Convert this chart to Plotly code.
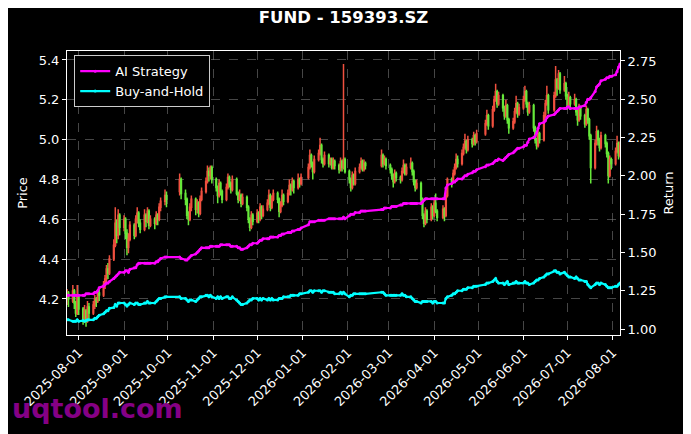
import pandas as pd
import plotly.graph_objects as go

# trading calendar (SZSE), holidays removed
START, END = '2025-07-24', '2026-08-06'
HOLIDAYS = ['2025-10-01', '2025-10-02', '2025-10-03', '2025-10-06', '2025-10-07', '2025-10-08',
            '2026-01-01', '2026-01-02',
            '2026-02-16', '2026-02-17', '2026-02-18', '2026-02-19', '2026-02-20', '2026-02-23',
            '2026-04-06', '2026-05-01', '2026-05-04', '2026-05-05', '2026-06-19']
MONTH_TICKS = ['2025-08-01', '2025-09-01', '2025-10-01', '2025-11-01', '2025-12-01',
               '2026-01-01', '2026-02-01', '2026-03-01', '2026-04-01', '2026-05-01',
               '2026-06-01', '2026-07-01', '2026-08-01']
PRICE_TICKS = [4.2, 4.4, 4.6, 4.8, 5.0, 5.2, 5.4]
RETURN_TICKS = [1.00, 1.25, 1.50, 1.75, 2.00, 2.25, 2.50, 2.75]

opens = [4.20, 4.23,
         4.19, 4.24, 4.18, 4.13, 4.21, 4.15, 4.10, 4.14, 4.09, 4.16,
         4.13, 4.17, 4.20, 4.19, 4.23, 4.22, 4.27, 4.30, 4.35, 4.33,
         4.40, 4.47, 4.58, 4.52, 4.62, 4.56, 4.60, 4.53, 4.46, 4.50,
         4.57, 4.52, 4.60, 4.63, 4.58, 4.55, 4.62, 4.59, 4.64, 4.57,
         4.60, 4.58, 4.62, 4.60, 4.66, 4.69, 4.72,
         4.74, 4.80,
         4.73, 4.70, 4.62, 4.60, 4.66, 4.70, 4.65, 4.68, 4.63, 4.70,
         4.74, 4.79, 4.84, 4.82, 4.86,
         4.80, 4.76, 4.72, 4.78, 4.74, 4.70, 4.76, 4.81, 4.78, 4.75,
         4.80, 4.73, 4.70, 4.72, 4.68, 4.71, 4.66, 4.60, 4.56, 4.62,
         4.59, 4.63, 4.60, 4.66, 4.62, 4.65, 4.68, 4.72, 4.66, 4.70,
         4.73, 4.70, 4.64, 4.67, 4.72, 4.69, 4.73, 4.77, 4.75, 4.79,
         4.76, 4.80, 4.78,
         4.81, 4.86, 4.92, 4.88, 4.84, 4.90, 4.93, 4.97, 4.90, 4.88,
         4.92, 4.88, 4.90, 4.86, 4.89, 4.87, 4.85, 4.89, 4.86, 4.90,
         4.84, 4.80, 4.76, 4.82, 4.78, 4.84, 4.86, 4.89, 4.85, 4.88,
         4.87, 4.92, 4.88, 4.90,
         4.87, 4.85, 4.82, 4.79, 4.83, 4.81, 4.80, 4.84, 4.87, 4.83,
         4.86, 4.88, 4.84, 4.79, 4.76, 4.78, 4.70, 4.62, 4.58, 4.64,
         4.60, 4.66, 4.62, 4.68, 4.64,
         4.61, 4.65, 4.62, 4.72,
         4.80, 4.79, 4.83, 4.86, 4.90, 4.88, 4.93, 4.96, 4.99, 4.95,
         5.00, 4.98, 5.02, 4.99,
         5.03, 5.08, 5.12,
         5.07, 5.15, 5.20, 5.24, 5.18, 5.22, 5.16, 5.12, 5.17, 5.10,
         5.06, 5.09, 5.14, 5.18, 5.13, 5.16, 5.20, 5.24, 5.18, 5.14,
         5.17, 5.06, 5.00, 4.97, 5.03,
         5.00, 5.12, 5.18, 5.22,
         5.15, 5.22, 5.30, 5.26, 5.33, 5.25, 5.28, 5.22, 5.17, 5.21,
         5.18, 5.20, 5.14, 5.10, 5.16, 5.12, 5.08, 5.15, 5.10, 5.02,
         4.86, 4.98, 5.04, 5.00, 4.96, 5.02, 4.98, 4.93, 4.82, 4.90,
         4.88, 4.94, 4.98, 4.92]

highs = [4.25, 4.24,
         4.27, 4.25, 4.19, 4.27, 4.22, 4.16, 4.17, 4.15, 4.19, 4.18,
         4.19, 4.22, 4.21, 4.25, 4.25, 4.29, 4.32, 4.37, 4.38, 4.42,
         4.50, 4.66, 4.60, 4.65, 4.63, 4.62, 4.61, 4.55, 4.53, 4.59,
         4.58, 4.62, 4.66, 4.64, 4.60, 4.65, 4.63, 4.66, 4.65, 4.62,
         4.61, 4.64, 4.63, 4.68, 4.71, 4.75, 4.74,
         4.83, 4.81,
         4.75, 4.71, 4.64, 4.68, 4.72, 4.71, 4.70, 4.69, 4.72, 4.76,
         4.81, 4.87, 4.86, 4.87, 4.87,
         4.81, 4.77, 4.80, 4.79, 4.75, 4.78, 4.83, 4.82, 4.79, 4.82,
         4.81, 4.74, 4.75, 4.73, 4.73, 4.72, 4.67, 4.61, 4.64, 4.63,
         4.65, 4.64, 4.68, 4.67, 4.67, 4.70, 4.75, 4.73, 4.72, 4.75,
         4.74, 4.71, 4.69, 4.75, 4.73, 4.75, 4.80, 4.78, 4.81, 4.80,
         4.83, 4.81, 4.83,
         4.88, 4.95, 4.93, 4.89, 4.92, 4.95, 5.01, 4.98, 4.91, 4.94,
         4.93, 4.91, 4.91, 4.91, 4.90, 4.88, 4.91, 4.90, 5.38, 4.91,
         4.85, 4.81, 4.84, 4.83, 4.86, 4.88, 4.91, 4.90, 4.90, 4.89,
         4.95, 4.93, 4.92, 4.91,
         4.88, 4.86, 4.83, 4.85, 4.84, 4.82, 4.86, 4.90, 4.88, 4.88,
         4.91, 4.89, 4.85, 4.80, 4.80, 4.79, 4.71, 4.63, 4.66, 4.65,
         4.68, 4.67, 4.70, 4.73, 4.65,
         4.67, 4.66, 4.74, 4.81,
         4.81, 4.85, 4.88, 4.93, 4.92, 4.95, 4.98, 5.03, 5.00, 5.02,
         5.01, 5.04, 5.03, 5.05,
         5.10, 5.15, 5.13,
         5.17, 5.22, 5.28, 5.25, 5.24, 5.23, 5.17, 5.20, 5.18, 5.11,
         5.11, 5.16, 5.22, 5.19, 5.18, 5.22, 5.27, 5.25, 5.19, 5.19,
         5.18, 5.07, 5.01, 5.05, 5.04,
         5.14, 5.20, 5.27, 5.23,
         5.24, 5.37, 5.31, 5.35, 5.34, 5.32, 5.29, 5.23, 5.24, 5.22,
         5.23, 5.21, 5.15, 5.18, 5.17, 5.13, 5.17, 5.16, 5.11, 5.03,
         5.00, 5.07, 5.05, 5.01, 5.04, 5.03, 4.99, 4.94, 4.92, 4.91,
         4.96, 5.02, 4.99, 4.99]

lows = [4.17, 4.16,
        4.18, 4.15, 4.11, 4.12, 4.12, 4.07, 4.08, 4.06, 4.08, 4.10,
        4.12, 4.15, 4.16, 4.18, 4.19, 4.21, 4.25, 4.28, 4.30, 4.32,
        4.39, 4.46, 4.48, 4.50, 4.52, 4.54, 4.50, 4.42, 4.43, 4.49,
        4.50, 4.51, 4.58, 4.56, 4.53, 4.54, 4.56, 4.58, 4.55, 4.56,
        4.55, 4.57, 4.57, 4.59, 4.64, 4.67, 4.66,
        4.72, 4.70,
        4.67, 4.60, 4.57, 4.59, 4.64, 4.62, 4.63, 4.61, 4.62, 4.69,
        4.73, 4.78, 4.79, 4.80, 4.78,
        4.74, 4.68, 4.71, 4.72, 4.68, 4.69, 4.75, 4.76, 4.73, 4.74,
        4.72, 4.68, 4.69, 4.66, 4.67, 4.64, 4.58, 4.54, 4.55, 4.57,
        4.58, 4.58, 4.59, 4.60, 4.61, 4.64, 4.67, 4.64, 4.65, 4.69,
        4.68, 4.61, 4.63, 4.66, 4.67, 4.68, 4.72, 4.72, 4.74, 4.73,
        4.75, 4.76, 4.77,
        4.80, 4.85, 4.86, 4.80, 4.83, 4.89, 4.92, 4.88, 4.86, 4.87,
        4.86, 4.87, 4.85, 4.85, 4.85, 4.83, 4.84, 4.84, 4.85, 4.83,
        4.78, 4.74, 4.75, 4.77, 4.77, 4.83, 4.85, 4.84, 4.84, 4.85,
        4.86, 4.86, 4.87, 4.85,
        4.83, 4.80, 4.76, 4.78, 4.79, 4.78, 4.79, 4.83, 4.82, 4.82,
        4.85, 4.82, 4.77, 4.74, 4.75, 4.68, 4.60, 4.56, 4.57, 4.58,
        4.59, 4.60, 4.61, 4.63, 4.59,
        4.60, 4.59, 4.61, 4.71,
        4.76, 4.78, 4.82, 4.85, 4.86, 4.87, 4.92, 4.95, 4.93, 4.94,
        4.96, 4.97, 4.97, 4.98,
        5.02, 5.07, 5.05,
        5.06, 5.14, 5.19, 5.16, 5.17, 5.14, 5.10, 5.11, 5.08, 5.03,
        5.05, 5.08, 5.13, 5.11, 5.12, 5.15, 5.19, 5.16, 5.12, 5.13,
        5.04, 4.98, 4.95, 4.96, 4.98,
        4.99, 5.11, 5.17, 5.13,
        5.14, 5.21, 5.22, 5.25, 5.23, 5.24, 5.20, 5.15, 5.16, 5.15,
        5.17, 5.12, 5.07, 5.09, 5.10, 5.06, 5.07, 5.08, 5.00, 4.78,
        4.85, 4.97, 4.97, 4.94, 4.95, 4.96, 4.91, 4.78, 4.81, 4.85,
        4.87, 4.93, 4.90, 4.91]

closes = [4.22, 4.20,
          4.24, 4.18, 4.13, 4.22, 4.15, 4.10, 4.14, 4.09, 4.16, 4.13,
          4.17, 4.20, 4.19, 4.23, 4.22, 4.27, 4.30, 4.35, 4.33, 4.40,
          4.47, 4.58, 4.52, 4.62, 4.56, 4.60, 4.53, 4.46, 4.50, 4.57,
          4.52, 4.60, 4.63, 4.58, 4.55, 4.62, 4.59, 4.64, 4.57, 4.60,
          4.58, 4.62, 4.60, 4.66, 4.69, 4.72, 4.70,
          4.80, 4.73,
          4.70, 4.62, 4.60, 4.66, 4.70, 4.65, 4.68, 4.63, 4.70, 4.74,
          4.79, 4.84, 4.82, 4.86, 4.80,
          4.76, 4.72, 4.78, 4.74, 4.70, 4.76, 4.81, 4.78, 4.75, 4.80,
          4.73, 4.70, 4.72, 4.68, 4.71, 4.66, 4.60, 4.56, 4.62, 4.59,
          4.63, 4.60, 4.66, 4.62, 4.65, 4.68, 4.72, 4.66, 4.70, 4.73,
          4.70, 4.64, 4.67, 4.72, 4.69, 4.73, 4.77, 4.75, 4.79, 4.76,
          4.80, 4.78, 4.81,
          4.86, 4.92, 4.88, 4.84, 4.90, 4.93, 4.97, 4.90, 4.88, 4.92,
          4.88, 4.90, 4.86, 4.89, 4.87, 4.85, 4.89, 4.86, 4.90, 4.84,
          4.80, 4.76, 4.82, 4.78, 4.84, 4.86, 4.89, 4.85, 4.88, 4.87,
          4.92, 4.88, 4.90, 4.87,
          4.85, 4.82, 4.79, 4.83, 4.81, 4.80, 4.84, 4.87, 4.83, 4.86,
          4.88, 4.84, 4.79, 4.76, 4.78, 4.70, 4.62, 4.58, 4.64, 4.60,
          4.66, 4.62, 4.68, 4.64, 4.61,
          4.65, 4.62, 4.72, 4.80,
          4.79, 4.83, 4.86, 4.90, 4.88, 4.93, 4.96, 4.99, 4.95, 5.00,
          4.98, 5.02, 4.99, 5.03,
          5.08, 5.12, 5.07,
          5.15, 5.20, 5.24, 5.18, 5.22, 5.16, 5.12, 5.17, 5.10, 5.06,
          5.09, 5.14, 5.18, 5.13, 5.16, 5.20, 5.24, 5.18, 5.14, 5.17,
          5.06, 5.00, 4.97, 5.03, 5.00,
          5.12, 5.18, 5.22, 5.15,
          5.22, 5.30, 5.26, 5.33, 5.25, 5.28, 5.22, 5.17, 5.21, 5.18,
          5.20, 5.14, 5.10, 5.16, 5.12, 5.08, 5.15, 5.10, 5.02, 4.86,
          4.98, 5.04, 5.00, 4.96, 5.02, 4.98, 4.93, 4.82, 4.90, 4.88,
          4.94, 4.98, 4.92, 4.97]

ai_return = [1.22, 1.22,
             1.22, 1.22, 1.22, 1.22, 1.22, 1.22, 1.22, 1.23, 1.23, 1.23,
             1.23, 1.24, 1.24, 1.25, 1.27, 1.28, 1.29, 1.30, 1.30, 1.31,
             1.33, 1.34, 1.35, 1.36, 1.37, 1.37, 1.38, 1.38, 1.37, 1.39,
             1.40, 1.40, 1.42, 1.43, 1.43, 1.43, 1.43, 1.43, 1.43, 1.43,
             1.43, 1.44, 1.44, 1.45, 1.46, 1.47, 1.47,
             1.47, 1.46,
             1.45, 1.45, 1.46, 1.47, 1.48, 1.49, 1.50, 1.51, 1.52, 1.53,
             1.53, 1.53, 1.53, 1.54, 1.54,
             1.54, 1.54, 1.54, 1.55, 1.55, 1.55, 1.55, 1.55, 1.54, 1.54,
             1.54, 1.53, 1.53, 1.52, 1.52, 1.53, 1.54, 1.55, 1.55, 1.56,
             1.56, 1.57, 1.58, 1.58, 1.59, 1.59, 1.59, 1.60, 1.60, 1.60,
             1.60, 1.61, 1.61, 1.62, 1.62, 1.63, 1.63, 1.63, 1.64, 1.64,
             1.65, 1.65, 1.66,
             1.68, 1.70, 1.70, 1.70, 1.70, 1.71, 1.71, 1.71, 1.71, 1.71,
             1.72, 1.72, 1.72, 1.72, 1.72, 1.72, 1.72, 1.72, 1.73, 1.72,
             1.74, 1.75, 1.75, 1.75, 1.76, 1.76, 1.77, 1.77, 1.77, 1.77,
             1.78, 1.78, 1.79, 1.79,
             1.79, 1.80, 1.80, 1.80, 1.80, 1.81, 1.81, 1.82, 1.82, 1.82,
             1.82, 1.82, 1.82, 1.82, 1.82, 1.82, 1.83, 1.84, 1.85, 1.85,
             1.85, 1.85, 1.85, 1.85, 1.85,
             1.85, 1.85, 1.92, 1.94,
             1.95, 1.96, 1.96, 1.97, 1.98, 1.98, 1.99, 2.00, 2.00, 2.01,
             2.02, 2.03, 2.03, 2.04,
             2.06, 2.07, 2.07,
             2.08, 2.09, 2.10, 2.10, 2.11, 2.10, 2.11, 2.12, 2.13, 2.14,
             2.15, 2.16, 2.17, 2.18, 2.18, 2.19, 2.20, 2.20, 2.22, 2.24,
             2.25, 2.26, 2.28, 2.31, 2.34,
             2.35, 2.36, 2.38, 2.39,
             2.40, 2.41, 2.42, 2.43, 2.44, 2.44, 2.44, 2.45, 2.45, 2.44,
             2.44, 2.44, 2.44, 2.45, 2.45, 2.46, 2.48, 2.50, 2.50, 2.51,
             2.55, 2.58, 2.59, 2.60, 2.62, 2.63, 2.64, 2.64, 2.65, 2.65,
             2.66, 2.68, 2.71, 2.73]

bh_return = [1.06, 1.06,
             1.05, 1.05, 1.05, 1.06, 1.05, 1.055, 1.05, 1.055, 1.06, 1.06,
             1.06, 1.07, 1.07, 1.08, 1.09, 1.10, 1.11, 1.12, 1.12, 1.135,
             1.14, 1.16, 1.15, 1.17, 1.17, 1.17, 1.16, 1.15, 1.16, 1.17,
             1.16, 1.17, 1.17, 1.16, 1.16, 1.17, 1.17, 1.18, 1.17, 1.17,
             1.17, 1.18, 1.19, 1.20, 1.20, 1.21, 1.21,
             1.21, 1.20,
             1.20, 1.19, 1.18, 1.19, 1.19, 1.18, 1.19, 1.20, 1.21, 1.21,
             1.22, 1.22, 1.21, 1.22, 1.21,
             1.20, 1.21, 1.20, 1.21, 1.20, 1.21, 1.21, 1.20, 1.20, 1.21,
             1.19, 1.18, 1.17, 1.16, 1.16, 1.17, 1.18, 1.19, 1.19, 1.20,
             1.20, 1.19, 1.20, 1.19, 1.20, 1.19, 1.20, 1.19, 1.20, 1.19,
             1.19, 1.20, 1.20, 1.20, 1.21, 1.21, 1.21, 1.22, 1.22, 1.22,
             1.22, 1.23, 1.23,
             1.24, 1.25, 1.25, 1.24, 1.25, 1.25, 1.25, 1.24, 1.25, 1.25,
             1.24, 1.24, 1.24, 1.24, 1.23, 1.23, 1.24, 1.23, 1.24, 1.23,
             1.21, 1.22, 1.22, 1.23, 1.23, 1.23, 1.23, 1.23, 1.23, 1.23,
             1.24, 1.24, 1.23, 1.22,
             1.22, 1.22, 1.22, 1.22, 1.22, 1.22, 1.23, 1.22, 1.22, 1.21,
             1.21, 1.20, 1.19, 1.18, 1.18, 1.17, 1.18, 1.18, 1.18, 1.18,
             1.18, 1.17, 1.18, 1.18, 1.17,
             1.17, 1.17, 1.20, 1.21,
             1.22, 1.23, 1.23, 1.24, 1.25, 1.25, 1.26, 1.26, 1.26, 1.27,
             1.27, 1.28, 1.28, 1.28,
             1.29, 1.30, 1.30,
             1.31, 1.32, 1.33, 1.31, 1.30, 1.30, 1.29, 1.30, 1.31, 1.29,
             1.30, 1.30, 1.31, 1.30, 1.30, 1.30, 1.31, 1.30, 1.30, 1.29,
             1.30, 1.31, 1.32, 1.32, 1.33,
             1.34, 1.35, 1.36, 1.36,
             1.38, 1.38, 1.37, 1.37, 1.36, 1.37, 1.36, 1.35, 1.34, 1.34,
             1.33, 1.34, 1.33, 1.32, 1.32, 1.31, 1.31, 1.29, 1.28, 1.27,
             1.29, 1.30, 1.30, 1.29, 1.30, 1.29, 1.28, 1.27, 1.27, 1.27,
             1.28, 1.28, 1.29, 1.30]

dates = pd.bdate_range(START, END, freq='C', holidays=HOLIDAYS).strftime('%Y-%m-%d').tolist()

GRID = 'rgba(128,128,128,0.55)'
RED, GREEN = '#f0503f', '#66e83a'

# the page body has an 8px margin, so the figure is 8px smaller and shifted
PAGE_PAD = 8
W, H = 691 - PAGE_PAD, 434 - PAGE_PAD

fig = go.Figure()

fig.add_trace(go.Candlestick(
    x=dates, open=opens, high=highs, low=lows, close=closes,
    increasing=dict(line=dict(color=RED, width=1.5), fillcolor=RED),
    decreasing=dict(line=dict(color=GREEN, width=1.5), fillcolor=GREEN),
    showlegend=False, name='Price'))

fig.add_trace(go.Scatter(
    x=dates, y=ai_return, yaxis='y2', name='AI Strategy', mode='lines+markers',
    line=dict(color='#ff00ff', width=2.2), marker=dict(size=3, color='#ff00ff')))

fig.add_trace(go.Scatter(
    x=dates, y=bh_return, yaxis='y2', name='Buy-and-Hold', mode='lines+markers',
    line=dict(color='#00ffff', width=2.2), marker=dict(size=3, color='#00ffff')))

axis_common = dict(showline=True, linecolor='white', linewidth=1, ticks='outside',
                   tickcolor='white', ticklen=4, zeroline=False, automargin=False,
                   tickfont=dict(size=13, color='white'))

fig.update_layout(
    width=W, height=H,
    paper_bgcolor='black', plot_bgcolor='black',
    margin=dict(l=67 - PAGE_PAD, r=71, t=51 - PAGE_PAD, b=99),
    font=dict(family='DejaVu Sans', size=13, color='white'),
    title=dict(text='<b>FUND - 159393.SZ</b>', x=0.5, xref='paper', xanchor='center',
               y=1 - (17 - PAGE_PAD) / H, yanchor='middle', font=dict(size=16.5, color='white')),
    xaxis=dict(type='date', range=[START, END], tickvals=MONTH_TICKS, tickformat='%Y-%m-%d',
               tickangle=-45, showgrid=True, gridcolor=GRID, griddash='dash', gridwidth=0.6,
               mirror=True, rangeslider=dict(visible=False), **axis_common),
    yaxis=dict(range=[4.019, 5.445], tickvals=PRICE_TICKS, tickformat='.1f',
               title=dict(text='Price', standoff=8, font=dict(size=13)), showgrid=True,
               gridcolor=GRID, griddash='dash', gridwidth=0.6, mirror=True, **axis_common),
    yaxis2=dict(overlaying='y', side='right', range=[0.961, 2.815], tickvals=RETURN_TICKS,
                tickformat='.2f', title=dict(text='Return', standoff=8, font=dict(size=13)),
                showgrid=False, **axis_common),
    legend=dict(x=0.013, y=0.985, xanchor='left', yanchor='top', bgcolor='black',
                bordercolor='#cccccc', borderwidth=1, font=dict(size=13, color='white')),
    annotations=[dict(text='<b>uqtool.com</b>', xref='paper', yref='paper',
                      x=(10 - 67) / 553, y=(335 - 408) / 284, xanchor='left', yanchor='middle',
                      showarrow=False, font=dict(size=27, color='#850085'))],
)

fig.write_html('out.html')
